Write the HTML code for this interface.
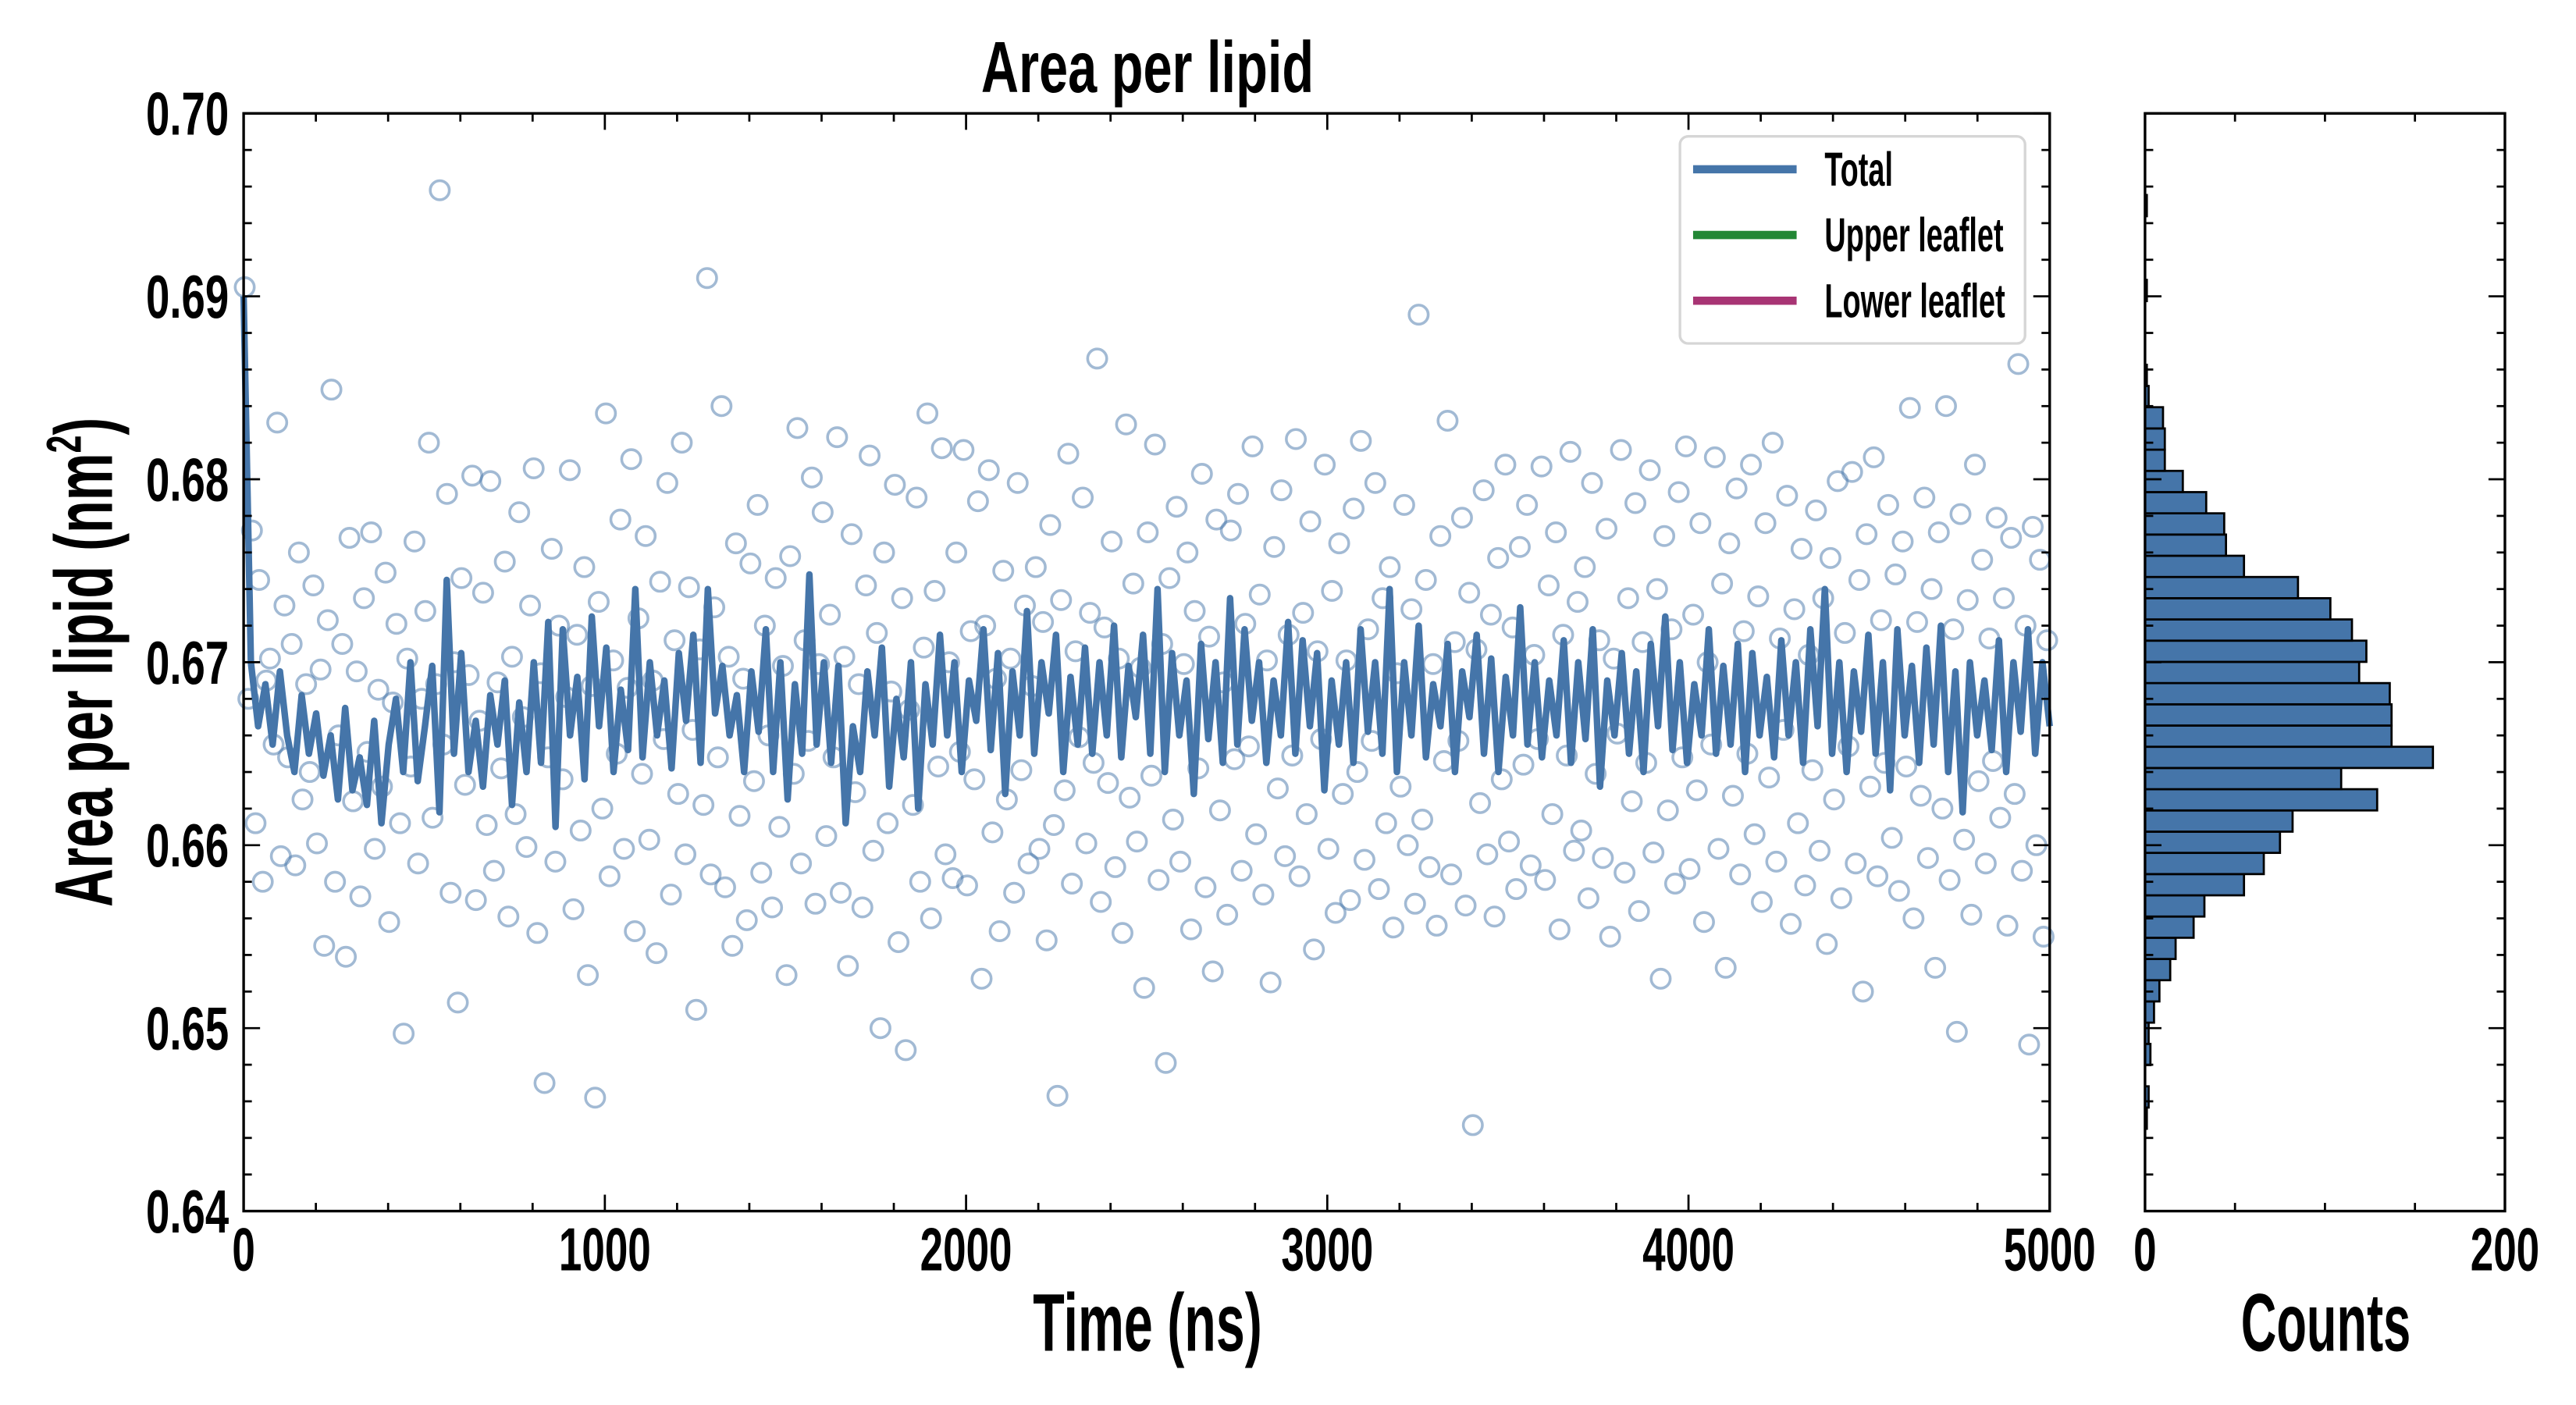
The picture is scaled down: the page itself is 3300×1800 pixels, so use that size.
<!DOCTYPE html>
<html><head><meta charset="utf-8">
<style>
html,body{margin:0;padding:0;background:#fff;}
svg{display:block;}
text{font-family:"Liberation Sans Narrow","Liberation Sans",sans-serif;font-weight:bold;fill:#000;}
</style></head>
<body>
<svg id="chart" width="3300" height="1800" viewBox="0 0 1567 855" xmlns="http://www.w3.org/2000/svg">
<g id="scatter"></g>
<g id="line"></g>
<g id="hist"></g>
<g id="axes"></g>
</svg>
<script>
const scatterValues=[
0.6905,0.6680,0.6772,0.6612,0.6745,0.6580,0.6690,0.6702,0.6655,0.6831,
0.6594,0.6731,0.6648,0.6710,0.6589,0.6760,0.6625,0.6688,0.6640,0.6742,
0.6601,0.6696,0.6545,0.6723,0.6849,0.6580,0.6660,0.6710,0.6539,0.6768,
0.6624,0.6695,0.6572,0.6735,0.6651,0.6771,0.6598,0.6685,0.6632,0.6749,
0.6558,0.6678,0.6721,0.6612,0.6497,0.6702,0.6643,0.6766,0.6590,0.6680,
0.6728,0.6820,0.6615,0.6688,0.6958,0.6655,0.6792,0.6574,0.6700,0.6514,
0.6746,0.6633,0.6693,0.6802,0.6570,0.6668,0.6738,0.6611,0.6799,0.6586,
0.6689,0.6642,0.6755,0.6561,0.6703,0.6617,0.6782,0.6670,0.6599,0.6731,
0.6806,0.6552,0.6694,0.6470,0.6648,0.6762,0.6591,0.6720,0.6636,0.6681,
0.6805,0.6565,0.6715,0.6608,0.6752,0.6529,0.6687,0.6462,0.6733,0.6620,
0.6836,0.6583,0.6701,0.6650,0.6778,0.6598,0.6686,0.6811,0.6553,0.6724,
0.6639,0.6769,0.6603,0.6690,0.6541,0.6744,0.6658,0.6798,0.6573,0.6712,
0.6628,0.6820,0.6595,0.6741,0.6663,0.6510,0.6707,0.6622,0.6910,0.6584,
0.6730,0.6648,0.6840,0.6577,0.6703,0.6545,0.6765,0.6616,0.6691,0.6559,
0.6754,0.6635,0.6786,0.6585,0.6720,0.6660,0.6566,0.6746,0.6610,0.6698,
0.6529,0.6758,0.6639,0.6828,0.6590,0.6712,0.6657,0.6801,0.6568,0.6699,
0.6782,0.6605,0.6726,0.6648,0.6823,0.6574,0.6703,0.6534,0.6770,0.6629,
0.6688,0.6566,0.6742,0.6813,0.6597,0.6716,0.6500,0.6760,0.6612,0.6684,
0.6797,0.6547,0.6735,0.6488,0.6674,0.6622,0.6790,0.6580,0.6708,0.6836,
0.6560,0.6739,0.6643,0.6817,0.6595,0.6700,0.6582,0.6760,0.6651,0.6816,
0.6578,0.6717,0.6636,0.6788,0.6527,0.6720,0.6805,0.6607,0.6691,0.6553,
0.6750,0.6625,0.6702,0.6574,0.6798,0.6641,0.6731,0.6590,0.6687,0.6752,
0.6598,0.6722,0.6548,0.6775,0.6611,0.6463,0.6734,0.6630,0.6814,0.6579,
0.6706,0.6659,0.6790,0.6601,0.6727,0.6645,0.6866,0.6569,0.6719,0.6634,
0.6766,0.6588,0.6702,0.6552,0.6830,0.6626,0.6743,0.6602,0.6697,0.6522,
0.6771,0.6638,0.6819,0.6581,0.6710,0.6481,0.6746,0.6614,0.6785,0.6591,
0.6699,0.6760,0.6554,0.6728,0.6642,0.6803,0.6577,0.6714,0.6531,0.6778,
0.6619,0.6689,0.6562,0.6772,0.6647,0.6792,0.6586,0.6721,0.6654,0.6818,
0.6606,0.6737,0.6573,0.6701,0.6525,0.6763,0.6631,0.6794,0.6594,0.6715,
0.6649,0.6822,0.6583,0.6727,0.6617,0.6777,0.6543,0.6706,0.6658,0.6808,
0.6598,0.6739,0.6563,0.6765,0.6628,0.6701,0.6570,0.6784,0.6640,0.6821,
0.6592,0.6718,0.6657,0.6798,0.6576,0.6735,0.6612,0.6752,0.6555,0.6694,
0.6632,0.6786,0.6600,0.6729,0.6568,0.6890,0.6614,0.6745,0.6588,0.6699,
0.6556,0.6769,0.6646,0.6832,0.6584,0.6711,0.6657,0.6779,0.6567,0.6738,
0.6447,0.6707,0.6623,0.6794,0.6595,0.6726,0.6561,0.6757,0.6636,0.6808,
0.6602,0.6719,0.6576,0.6763,0.6644,0.6786,0.6589,0.6704,0.6658,0.6807,
0.6581,0.6742,0.6617,0.6771,0.6554,0.6715,0.6649,0.6815,0.6597,0.6733,
0.6608,0.6752,0.6571,0.6798,0.6639,0.6712,0.6593,0.6773,0.6550,0.6702,
0.6661,0.6816,0.6585,0.6735,0.6624,0.6787,0.6564,0.6711,0.6645,0.6805,
0.6596,0.6740,0.6527,0.6769,0.6619,0.6718,0.6579,0.6793,0.6648,0.6818,
0.6587,0.6726,0.6630,0.6776,0.6558,0.6700,0.6655,0.6812,0.6598,0.6743,
0.6533,0.6765,0.6627,0.6795,0.6584,0.6717,0.6650,0.6808,0.6606,0.6736,
0.6569,0.6776,0.6637,0.6820,0.6591,0.6713,0.6663,0.6791,0.6557,0.6729,
0.6612,0.6762,0.6578,0.6704,0.6641,0.6783,0.6597,0.6735,0.6546,0.6757,
0.6625,0.6799,0.6571,0.6716,0.6654,0.6804,0.6590,0.6745,0.6520,0.6770,
0.6632,0.6812,0.6583,0.6723,0.6645,0.6786,0.6604,0.6748,0.6575,0.6766,
0.6643,0.6839,0.6560,0.6722,0.6627,0.6790,0.6593,0.6740,0.6533,0.6771,
0.6620,0.6840,0.6581,0.6718,0.6498,0.6781,0.6603,0.6734,0.6562,0.6808,
0.6635,0.6756,0.6590,0.6713,0.6646,0.6779,0.6615,0.6735,0.6556,0.6768,
0.6628,0.6863,0.6586,0.6720,0.6491,0.6774,0.6600,0.6756,0.6550,0.6712
];
const lineValues=[
0.6900,0.6700,0.6665,0.6688,0.6655,0.6695,0.6660,0.6640,0.6682,0.6650,
0.6672,0.6638,0.6660,0.6625,0.6675,0.6630,0.6648,0.6622,0.6668,0.6612,
0.6655,0.6680,0.6640,0.6700,0.6635,0.6665,0.6698,0.6618,0.6745,0.6650,
0.6705,0.6640,0.6668,0.6632,0.6682,0.6655,0.6690,0.6622,0.6678,0.6640,
0.6700,0.6645,0.6722,0.6610,0.6718,0.6660,0.6692,0.6636,0.6725,0.6665,
0.6708,0.6640,0.6685,0.6652,0.6740,0.6648,0.6700,0.6660,0.6690,0.6642,
0.6705,0.6668,0.6715,0.6645,0.6740,0.6672,0.6698,0.6660,0.6682,0.6640,
0.6695,0.6662,0.6718,0.6640,0.6700,0.6625,0.6688,0.6650,0.6748,0.6655,
0.6700,0.6645,0.6698,0.6612,0.6665,0.6640,0.6695,0.6660,0.6708,0.6632,
0.6680,0.6648,0.6700,0.6620,0.6688,0.6655,0.6715,0.6660,0.6700,0.6640,
0.6690,0.6668,0.6718,0.6652,0.6705,0.6628,0.6695,0.6660,0.6728,0.6650,
0.6700,0.6672,0.6715,0.6640,0.6692,0.6655,0.6708,0.6650,0.6700,0.6660,
0.6720,0.6648,0.6698,0.6670,0.6715,0.6650,0.6740,0.6640,0.6705,0.6660,
0.6690,0.6628,0.6710,0.6658,0.6700,0.6645,0.6735,0.6655,0.6718,0.6668,
0.6700,0.6645,0.6690,0.6660,0.6722,0.6650,0.6712,0.6665,0.6705,0.6630,
0.6690,0.6655,0.6700,0.6645,0.6718,0.6662,0.6700,0.6650,0.6740,0.6640,
0.6700,0.6660,0.6720,0.6648,0.6688,0.6665,0.6710,0.6640,0.6695,0.6670,
0.6715,0.6650,0.6702,0.6640,0.6692,0.6660,0.6730,0.6655,0.6700,0.6648,
0.6690,0.6660,0.6712,0.6645,0.6700,0.6658,0.6718,0.6632,0.6690,0.6660,
0.6705,0.6650,0.6695,0.6640,0.6710,0.6665,0.6725,0.6652,0.6700,0.6645,
0.6688,0.6660,0.6718,0.6650,0.6698,0.6655,0.6710,0.6640,0.6705,0.6660,
0.6692,0.6648,0.6712,0.6660,0.6700,0.6645,0.6718,0.6665,0.6740,0.6650,
0.6700,0.6640,0.6695,0.6662,0.6715,0.6650,0.6700,0.6630,0.6718,0.6660,
0.6698,0.6645,0.6708,0.6655,0.6720,0.6640,0.6695,0.6618,0.6700,0.6660,
0.6690,0.6652,0.6712,0.6640,0.6700,0.6662,0.6718,0.6650,0.6700,0.6665
];
const histCounts=[1,2,0,3,2,5,8,14,17,27,33,55,66,75,82,129,109,160,137,137,136,119,123,115,103,85,55,45,44,34,21,11,11,10,2,1,0,0,0,1,0,0,0,1];
const histStart=0.6445, histWidth=0.00116;
const xTicks=[0,1000,2000,3000,4000,5000];
const yTicks=[0.64,0.65,0.66,0.67,0.68,0.69,0.70];
const yTickLabels=["0.64","0.65","0.66","0.67","0.68","0.69","0.70"];
const cTicks=[0,200];
const legendLabels=["Total","Upper leaflet","Lower leaflet"];
const legendColors=["#4575a9","#238735","#a83474"];

const NS="http://www.w3.org/2000/svg";
const L=148,R=1247,T=69,B=737,HL=1305,HR=1524;
const xs=t=>L+t/5000*(R-L);
const ys=v=>B-(v-0.64)/0.06*(B-T);
const cs=c=>HL+c/200*(HR-HL);
function mk(tag,attrs,parent){const e=document.createElementNS(NS,tag);for(const k in attrs)e.setAttribute(k,attrs[k]);parent.appendChild(e);return e;}

const sg=document.getElementById('scatter');
const sdt=5000/scatterValues.length;
scatterValues.forEach((v,i)=>{
  const c=mk('circle',{cx:xs(i*sdt+3),cy:ys(v),r:5.8,fill:'none',stroke:'#4575a9','stroke-opacity':0.5,'stroke-width':1.7},sg);
  
  
});
const lg=document.getElementById('line');
const ldt=5000/(lineValues.length-1);
const p=mk('polyline',{points:lineValues.map((v,i)=>xs(i*ldt)+','+ys(v)).join(' '),fill:'none',stroke:'#4575a9','stroke-width':4,'stroke-linejoin':'round'},lg);



const hg=document.getElementById('hist');
histCounts.forEach((c,i)=>{
  if(c<=0)return;
  const y0=ys(histStart+(i+1)*histWidth), y1=ys(histStart+i*histWidth);
  const r=mk('rect',{x:HL,y:y0,width:cs(c)-HL,height:y1-y0,fill:'#4575a9',stroke:'#000','stroke-width':1.3},hg);
  
  
});

const ag=document.getElementById('axes');
function frame(x0,x1,name){
  const f=mk('rect',{x:x0,y:T,width:x1-x0,height:B-T,fill:'none',stroke:'#000','stroke-width':1.6},ag);
  
  
}
frame(L,R,'main-plot-frame');
frame(HL,HR,'histogram-frame');
for(let k=0;k<=30;k++){
  const y=ys(0.64+k*0.002), len=(k%5===0)?10:5;
  [[L,1],[R,-1],[HL,1],[HR,-1]].forEach(([x,d])=>mk('line',{x1:x,x2:x+d*len,y1:y,y2:y,stroke:'#000','stroke-width':1.3},ag));
}
for(let k=0;k<=25;k++){
  const x=xs(k*200), len=(k%5===0)?10:5;
  mk('line',{x1:x,x2:x,y1:B,y2:B-len,stroke:'#000','stroke-width':1.3},ag);
  mk('line',{x1:x,x2:x,y1:T,y2:T+len,stroke:'#000','stroke-width':1.3},ag);
}
for(let k=0;k<=4;k++){
  const x=cs(k*50), len=(k%4===0)?10:5;
  mk('line',{x1:x,x2:x,y1:B,y2:B-len,stroke:'#000','stroke-width':1.3},ag);
  mk('line',{x1:x,x2:x,y1:T,y2:T+len,stroke:'#000','stroke-width':1.3},ag);
}
// condensed text helper: squeeze horizontally
function ctext(str,x,y,size,sx,anchor,rot){
  const g=mk('g',{transform:'translate('+x+' '+y+')'+(rot?' rotate(-90)':'')+' scale('+sx+' 1)'},ag);
  const t=mk('text',{x:0,y:0,'text-anchor':anchor,'font-size':size},g);
  t.textContent=str;
  return t;
}
yTicks.forEach((v,i)=>{
  const t=ctext(yTickLabels[i],L-9,ys(v)+13,37,0.7,'end');
  
  
});
xTicks.forEach(v=>{
  const t=ctext(String(v),xs(v),773,37,0.68,'middle');
  
  
});
cTicks.forEach(v=>{
  const t=ctext(String(v),cs(v),773,37,0.68,'middle');
  
  
});
const lb=mk('rect',{x:1022,y:83,width:210,height:126,rx:5,fill:'#fff','fill-opacity':0.85,stroke:'#d6d6d6','stroke-width':1.6},ag);


legendLabels.forEach((s,i)=>{
  const y=103+i*40;
  const ln=mk('line',{x1:1030,x2:1093,y1:y,y2:y,stroke:legendColors[i],'stroke-width':5},ag);
  
  
  const t=ctext(s,1110,y+10,29,0.62,'start');
  
  
});
const tt=ctext('Area per lipid',698,56,44,0.72,'middle');


const xt=ctext('Time (ns)',698,822,50,0.63,'middle');


const ct=ctext('Counts',1415,822,50,0.6,'middle');


const yl=ctext('Area per lipid (nm',68,403,50,0.65,'middle',true);


const sup=mk('tspan',{'font-size':30,dy:-19},yl);
sup.textContent='2';
const cl=mk('tspan',{dy:19},yl);
cl.textContent=')';
</script>
</body></html>
